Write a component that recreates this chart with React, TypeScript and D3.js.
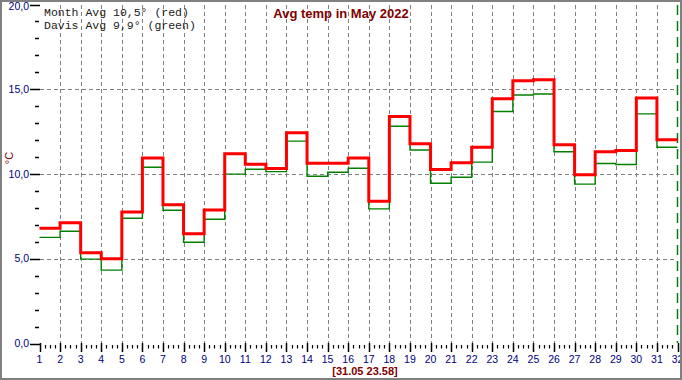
import React from "react";
import * as d3 from "d3";

const days: number[] = Array.from({ length: 31 }, (_, i) => i + 1);
const monthAvg: number[] = [
  6.8, 7.13, 5.35, 5.0, 7.76, 10.95, 8.19, 6.48, 7.88, 11.19,
  10.58, 10.32, 12.43, 10.64, 10.64, 10.95, 8.39, 13.39, 11.78, 10.26,
  10.66, 11.58, 14.44, 15.5, 15.56, 11.72, 9.95, 11.31, 11.38, 14.48, 12.02,
];
const davisAvg: number[] = [
  6.26, 6.62, 4.98, 4.33, 7.39, 10.4, 7.86, 5.97, 7.33, 9.99,
  10.28, 10.14, 11.94, 9.87, 10.1, 10.34, 7.94, 12.82, 11.42, 9.45,
  9.81, 10.7, 13.69, 14.66, 14.72, 11.31, 9.4, 10.62, 10.56, 13.55, 11.58,
];
const xTicks: number[] = Array.from({ length: 32 }, (_, i) => i + 1);
const yMajor: number[] = [0, 5, 10, 15, 20];
const yMajorLabels: string[] = ["0,0", "5,0", "10,0", "15,0", "20,0"];
const yMinor: number[] = Array.from({ length: 21 }, (_, i) => i).filter((v) => v % 5 !== 0);
const legendLines: string[] = ["Month Avg 10,5° (red)", "Davis Avg 9,9° (green)"];
const title = "Avg temp in May 2022";
const stamp = "[31.05 23.58]";

export default function App() {
  const W = 682;
  const H = 380;
  const x = d3.scaleLinear().domain([1, 32]).range([39.5, 677.5]);
  const y = d3.scaleLinear().domain([0, 20]).range([343.5, 4.5]);

  const stepPts = (vals: number[]) => {
    const pts: [number, number][] = vals.map((v, i) => [days[i], v]);
    pts.push([32, vals[vals.length - 1]]);
    return pts;
  };
  const line = d3
    .line<[number, number]>()
    .x((d) => x(d[0]))
    .y((d) => y(d[1]))
    .curve(d3.curveStepAfter);

  const minorX: number[] = [];
  for (let d = 1; d < 32; d++) for (let q = 1; q < 4; q++) minorX.push(d + q / 4);

  const navy = "#000080";
  const grid = "#808080";

  return (
    <svg width={W} height={H} style={{ position: "absolute", left: 0, top: 0, display: "block" }}>
      <rect x={0} y={0} width={W} height={H} fill="#ffffff" />
      {/* vertical grid */}
      {xTicks.slice(1, 31).map((d) => (
        <line key={"vg" + d} x1={Math.round(x(d)) + 0.5} x2={Math.round(x(d)) + 0.5} y1={5} y2={343}
          stroke={grid} strokeWidth={1} strokeDasharray="4,3" />
      ))}
      {/* horizontal grid */}
      {yMajor.slice(1, 4).map((v) => (
        <line key={"hg" + v} x1={40} x2={677} y1={Math.round(y(v)) + 0.5} y2={Math.round(y(v)) + 0.5}
          stroke={grid} strokeWidth={1} strokeDasharray="4,3" />
      ))}
      {/* current time marker */}
      <line x1={677.5} x2={677.5} y1={5} y2={343} stroke="#008000" strokeWidth={1.5} strokeDasharray="10,6" />
      {/* y ticks */}
      {yMajor.map((v, i) => (
        <g key={"ym" + v}>
          <line x1={30} x2={40} y1={Math.round(y(v)) + 0.5} y2={Math.round(y(v)) + 0.5} stroke="#000" strokeWidth={1.5} />
          <text x={29} y={Math.max(y(v) + 3.5, 9.5)} textAnchor="end" fontFamily="Liberation Sans, Arial, sans-serif" fontSize={10.5} fill={navy}>
            {yMajorLabels[i]}
          </text>
        </g>
      ))}
      {yMinor.map((v) => (
        <line key={"yn" + v} x1={35} x2={39} y1={Math.round(y(v)) + 0.5} y2={Math.round(y(v)) + 0.5} stroke="#000" strokeWidth={1.5} />
      ))}
      {/* x ticks */}
      {xTicks.map((d) => (
        <g key={"xm" + d}>
          <line x1={Math.round(x(d)) + 0.5} x2={Math.round(x(d)) + 0.5} y1={343} y2={352} stroke="#000" strokeWidth={1.5} />
          <text x={x(d)} y={363} textAnchor="middle" fontFamily="Liberation Sans, Arial, sans-serif" fontSize={10.5} fill={navy}>
            {d}
          </text>
        </g>
      ))}
      {minorX.map((d, i) => (
        <line key={"xn" + i} x1={Math.round(x(d)) + 0.5} x2={Math.round(x(d)) + 0.5} y1={345} y2={348.5} stroke="#000" strokeWidth={1.2} />
      ))}
      {/* series */}
      <path d={line(stepPts(davisAvg)) || ""} fill="none" stroke="#008000" strokeWidth={1.4} />
      <path d={line(stepPts(monthAvg)) || ""} fill="none" stroke="#ff0000" strokeWidth={3} />
      {/* y label */}
      <text transform="translate(13,158) rotate(-90)" textAnchor="middle" fontFamily="Liberation Sans, Arial, sans-serif" fontSize={11} fill="#800000">
        °C
      </text>
      {/* legend */}
      {legendLines.map((t, i) => (
        <text key={"lg" + i} x={44} y={16 + i * 12.5} fontFamily="Liberation Mono, Courier New, monospace" fontSize={11.5} fill="#1a1a1a" style={{ whiteSpace: "pre" }}>
          {t}
        </text>
      ))}
      {/* title */}
      <text x={341} y={18} textAnchor="middle" fontFamily="Liberation Sans, Arial, sans-serif" fontWeight="bold" fontSize={13} fill="#800000">
        {title}
      </text>
      {/* timestamp */}
      <text x={365} y={375} textAnchor="middle" fontFamily="Liberation Sans, Arial, sans-serif" fontWeight="bold" fontSize={11} fill="#800000">
        {stamp}
      </text>
      {/* frame */}
      <rect x={1} y={1} width={W - 2} height={H - 2} fill="none" stroke="#808080" strokeWidth={2} />
    </svg>
  );
}
